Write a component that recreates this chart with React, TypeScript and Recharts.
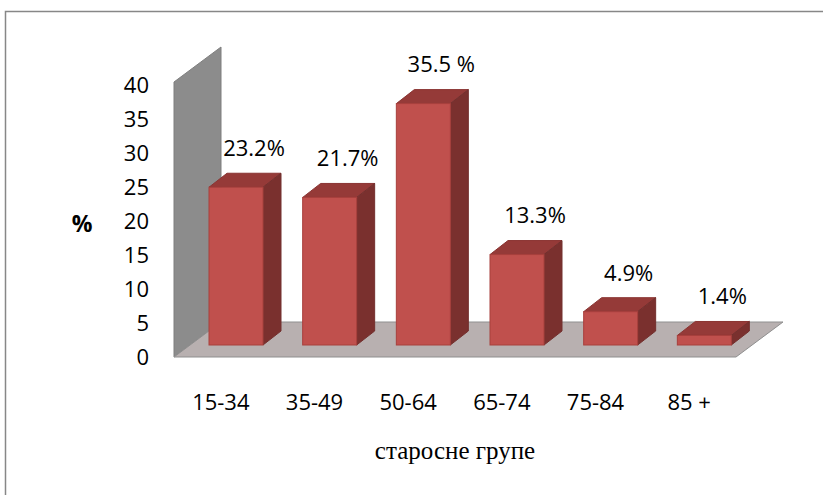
import { BarChart, Bar, XAxis, YAxis, Customized, LabelList } from 'recharts';

const groups = ['15-34', '35-49', '50-64', '65-74', '75-84', '85 +'];
const shares = [23.2, 21.7, 35.5, 13.3, 4.9, 1.4];
const shareLabels = ['23.2%', '21.7%', '35.5 %', '13.3%', '4.9%', '1.4%'];
const yTicks = [0, 5, 10, 15, 20, 25, 30, 35, 40];

const data = groups.map((g, i) => ({ group: g, share: shares[i], label: shareLabels[i] }));

const W = 823;
const H = 495;
const PLOT = { left: 174, top: 85, right: 736, bottom: 357 };
const DEPTH = { dx: 47, dy: 35 }; // floor depth
const BAR_OFF = { dx: 15, dy: 12 }; // front face of bars sits this far back
const BAR_DEPTH = { dx: 18, dy: 14 };
const FONT = '"Open Sans", "Noto Sans", sans-serif';

function Box3D(props: any) {
  const { x, y, width, height } = props;
  if (width == null || height == null) return null;
  const fx = x + BAR_OFF.dx;
  const fy = y - BAR_OFF.dy;
  const h = Math.max(height, 1);
  const { dx, dy } = BAR_DEPTH;
  return (
    <g>
      <polygon
        points={`${fx},${fy} ${fx + dx},${fy - dy} ${fx + width + dx},${fy - dy} ${fx + width},${fy}`}
        fill="#953a38"
        stroke="#8a3432"
        strokeWidth={1}
      />
      <polygon
        points={`${fx + width},${fy} ${fx + width + dx},${fy - dy} ${fx + width + dx},${fy + h - dy} ${fx + width},${fy + h}`}
        fill="#7a302e"
        stroke="#73302e"
        strokeWidth={1}
      />
      <rect x={fx} y={fy} width={width} height={h} fill="#c0504d" stroke="#a8403d" strokeWidth={1} />
    </g>
  );
}

function ValueLabel(props: any) {
  const { x, y, width, value } = props;
  const cx = x + width / 2 + BAR_OFF.dx + 18;
  const cy = y - BAR_OFF.dy - BAR_DEPTH.dy - 23;
  return (
    <text x={cx} y={cy} textAnchor="middle" dominantBaseline="middle" fontFamily={FONT} fontSize={22} fill="#000">
      {value}
    </text>
  );
}

function Backdrop() {
  const { left, top, right, bottom } = PLOT;
  const { dx, dy } = DEPTH;
  return (
    <g>
      <rect x={5.5} y={11.5} width={W + 20} height={H + 20} fill="#fff" stroke="#878787" strokeWidth={1.5} />
      <polygon
        points={`${left},${top - 3} ${left + dx},${top - 3 - dy} ${left + dx},${bottom - dy} ${left},${bottom}`}
        fill="#8c8c8c"
        stroke="#7f7f7f"
        strokeWidth={1}
      />
      <polygon
        points={`${left},${bottom} ${left + dx},${bottom - dy} ${right + dx},${bottom - dy} ${right},${bottom}`}
        fill="#b8b0b0"
        stroke="#8f8f8f"
        strokeWidth={1}
      />
      <text x={82} y={226} textAnchor="middle" dominantBaseline="middle" fontFamily={FONT} fontWeight="bold" fontSize={23}>
        %
      </text>
      <text x={455} y={453} textAnchor="middle" dominantBaseline="middle" fontFamily='"Liberation Serif", serif' fontSize={25}>
        старосне групе
      </text>
    </g>
  );
}

export default function App() {
  return (
    <div style={{ position: 'absolute', left: 0, top: 0, width: W, height: H, background: '#fff' }}>
      <BarChart
        width={W}
        height={H}
        data={data}
        margin={{ top: PLOT.top, left: PLOT.left - 60, right: W - PLOT.right, bottom: H - PLOT.bottom - 60 }}
        barSize={54}
      >
        <Customized component={Backdrop} />
        <XAxis
          dataKey="group"
          height={60}
          axisLine={false}
          tickLine={false}
          tickSize={0}
          tickMargin={37}
          interval={0}
          tick={{ fill: '#000', fontFamily: FONT, fontSize: 22 }}
        />
        <YAxis
          width={60}
          domain={[0, 40]}
          ticks={yTicks}
          axisLine={false}
          tickLine={false}
          tickSize={0}
          tickMargin={25}
          tick={{ fill: '#000', fontFamily: FONT, fontSize: 22 }}
        />
        <Bar dataKey="share" shape={<Box3D />} isAnimationActive={false}>
          <LabelList dataKey="label" content={<ValueLabel />} />
        </Bar>
      </BarChart>
    </div>
  );
}
